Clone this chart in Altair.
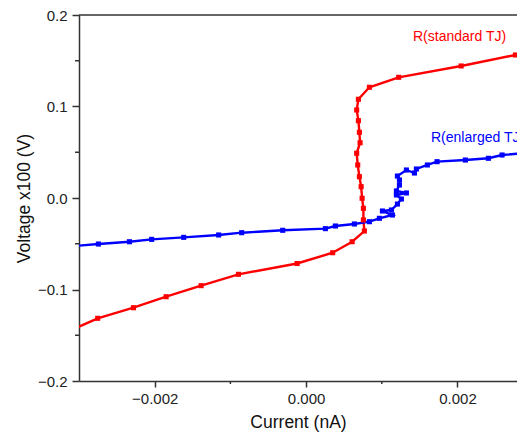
import altair as alt
import pandas as pd

# Red series: R(standard TJ)
std_x = [-0.00320, -0.002753, -0.002281, -0.001849, -0.001387, -0.000894, -0.000119,
         0.000351, 0.000608, 0.000770, 0.000757, 0.000757, 0.000740, 0.000727,
         0.000704, 0.000682, 0.000668, 0.000713, 0.000704, 0.000691, 0.000668,
         0.000691, 0.000836, 0.001223, 0.002048, 0.002765, 0.003200]
std_y = [-0.1480, -0.1315, -0.1199, -0.1079, -0.0958, -0.0834, -0.0716,
         -0.0598, -0.0478, -0.0361, -0.0240, -0.0113, -0.0003, 0.0124,
         0.0233, 0.0361, 0.0489, 0.0604, 0.0718, 0.0845, 0.0962,
         0.1079, 0.1210, 0.1319, 0.1443, 0.1563, 0.1636]

# Blue series: R(enlarged TJ)
enl_x = [-0.00320, -0.002744, -0.002334, -0.002040, -0.001617, -0.001155, -0.000851,
         -0.000309, 0.000255, 0.000387, 0.000638, 0.000836, 0.000968, 0.001140,
         0.001008, 0.001127, 0.001206, 0.001259, 0.001193, 0.001325, 0.001193,
         0.001233, 0.001233, 0.001206, 0.001325, 0.001431, 0.001457, 0.001602,
         0.001730, 0.002104, 0.002408, 0.002589, 0.003200]
enl_y = [-0.0535, -0.0503, -0.0478, -0.0452, -0.0430, -0.0404, -0.0379,
         -0.0353, -0.0335, -0.0306, -0.0284, -0.0259, -0.0222, -0.0186,
         -0.0142, -0.0131, -0.0066, -0.0011, 0.0033, 0.0055, 0.0077,
         0.0142, 0.0197, 0.0240, 0.0306, 0.0273, 0.0317, 0.0361,
         0.0397, 0.0415, 0.0434, 0.0470, 0.0510]

series_names = ["R(standard TJ)", "R(enlarged TJ)"]
series_colors = ["#ff0000", "#0000ff"]
label_x = [0.001412, 0.001650]
label_y = [0.1763, 0.0652]

x_major = [-0.002, 0.0, 0.002]
x_minor = [-0.001, 0.001, 0.003]
y_major = [-0.2, -0.1, 0.0, 0.1, 0.2]
y_minor = [-0.15, -0.05, 0.05, 0.15]

rows = []
for i, (x, y) in enumerate(zip(std_x, std_y)):
    rows.append({"series": series_names[0], "i": i, "x": x, "y": y})
for i, (x, y) in enumerate(zip(enl_x, enl_y)):
    rows.append({"series": series_names[1], "i": i, "x": x, "y": y})
df = pd.DataFrame(rows)

labels_df = pd.DataFrame({"series": series_names, "x": label_x, "y": label_y})

W, H = 438, 366
FONT = "Liberation Sans"
AX = "#333333"

xscale = alt.Scale(domain=[-0.003, 0.002786], nice=False, zero=False)
yscale = alt.Scale(domain=[-0.2, 0.2], nice=False, zero=False)
cscale = alt.Scale(domain=series_names, range=series_colors)

xaxis = alt.Axis(values=x_major, format=".3f", tickSize=6, labelPadding=4,
                 titlePadding=7, grid=False)
yaxis = alt.Axis(values=y_major, format=".1f", tickSize=7, labelPadding=5,
                 titlePadding=4, grid=False)

lines = alt.Chart(df).mark_line(
    clip=True, strokeWidth=2.4,
    point=alt.OverlayMarkDef(shape="square", size=26, filled=True, clip=True)
).encode(
    x=alt.X("x:Q", scale=xscale, title="Current (nA)", axis=xaxis),
    y=alt.Y("y:Q", scale=yscale, title="Voltage x100 (V)", axis=yaxis),
    color=alt.Color("series:N", scale=cscale, legend=None),
    order="i:Q",
    detail="series:N",
)

texts = alt.Chart(labels_df).mark_text(
    align="left", baseline="middle", fontSize=14, font=FONT
).encode(
    x=alt.X("x:Q", scale=xscale, title="Current (nA)", axis=xaxis),
    y=alt.Y("y:Q", scale=yscale, title="Voltage x100 (V)", axis=yaxis),
    text=alt.Text("series:N"),
    color=alt.Color("series:N", scale=cscale, legend=None),
)

xminor = alt.Chart(pd.DataFrame({"x": x_minor})).mark_rule(
    color=AX, strokeWidth=1.5
).encode(
    x=alt.X("x:Q", scale=xscale, title="Current (nA)", axis=xaxis),
    y=alt.value(H),
    y2=alt.value(H + 3),
)

yminor = alt.Chart(pd.DataFrame({"y": y_minor})).mark_rule(
    color=AX, strokeWidth=1.5
).encode(
    y=alt.Y("y:Q", scale=yscale, title="Voltage x100 (V)", axis=yaxis),
    x=alt.value(0),
    x2=alt.value(-4),
)

topline = alt.Chart(pd.DataFrame({"a": [0]})).mark_rule(
    color=AX, strokeWidth=1.5
).encode(
    x=alt.value(0), x2=alt.value(W), y=alt.value(0)
)

chart = alt.layer(lines, texts, xminor, yminor, topline).properties(
    width=W, height=H,
    autosize=alt.AutoSizeParams(type="none"),
    padding={"left": 71, "top": 7, "right": 0, "bottom": 51},
).configure_view(
    stroke=None
).configure_axis(
    domainColor=AX, domainWidth=1.5, tickColor=AX, tickWidth=1.5,
    labelFont=FONT, labelFontSize=15, labelColor="#222222",
    titleFont=FONT, titleFontSize=17.5, titleFontWeight="normal", titleColor="#111111",
)

chart.save("out.html", embed_options={"renderer": "svg", "actions": False})
